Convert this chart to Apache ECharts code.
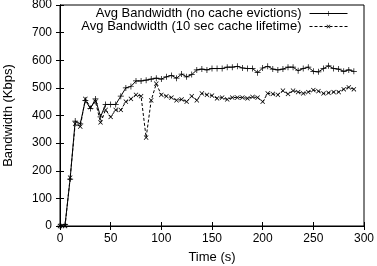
<!DOCTYPE html>
<html><head><meta charset="utf-8">
<script src="https://cdn.jsdelivr.net/npm/echarts@6/dist/echarts.min.js"></script>
<style>html,body{margin:0;padding:0;background:#fff}#c{width:377px;height:266px}</style>
</head><body><div id="c"></div>
<script>
const times = [0,5,10,15,20,25,30,35,40,45,50,55,60,65,70,75,80,85,90,95,100,105,110,115,120,125,130,135,140,145,150,155,160,165,170,175,180,185,190,195,200,205,210,215,220,225,230,235,240,245,250,255,260,265,270,275,280,285,290];
const noEvict = [0,5,170,380,370,455,425,460,395,440,440,440,470,500,505,525,525,528,532,535,532,540,545,535,550,540,548,565,568,565,570,570,570,575,575,578,572,570,570,555,572,578,568,565,568,575,575,562,570,575,560,558,570,580,570,568,560,565,560];
const tenSec = [0,0,175,370,360,460,430,450,375,420,395,420,420,450,460,475,470,320,455,515,475,470,465,455,458,450,470,455,480,475,472,462,465,458,465,465,465,462,467,465,450,480,478,475,490,478,490,485,480,485,492,488,480,482,485,485,495,502,495];
const xTicks = [0,50,100,150,200,250,300];
const yTicks = [0,100,200,300,400,500,600,700,800];
const name1 = 'Avg Bandwidth (no cache evictions)';
const name2 = 'Avg Bandwidth (10 sec cache lifetime)';

const font = 'Liberation Sans, Arial, sans-serif';
const plus = 'path://M-0.12,-1 L0.12,-1 L0.12,-0.12 L1,-0.12 L1,0.12 L0.12,0.12 L0.12,1 L-0.12,1 L-0.12,0.12 L-1,0.12 L-1,-0.12 L-0.12,-0.12 Z';
const chart = echarts.init(document.getElementById('c'), null, {renderer:'canvas'});
const axisCommon = {
  min: 0, axisLine:{show:true, lineStyle:{color:'#000', width:1}},
  axisTick:{show:true, inside:true, length:4, lineStyle:{color:'#000'}},
  splitLine:{show:false}
};
const legendCommon = {orient:'vertical', align:'right', itemWidth:38, itemHeight:6, padding:0,
  lineStyle:{width:1},
  textStyle:{fontFamily:font, fontSize:13, color:'#000', padding:[0,3,0,0]}};
chart.setOption({
  animation:false,
  backgroundColor:'#fff',
  grid:{left:60, right:13, top:5, bottom:40, containLabel:false, outerBoundsMode:'none',
        show:true, borderColor:'#000', borderWidth:1},
  legend:[
    Object.assign({data:[name1], right:29, top:7}, legendCommon),
    Object.assign({data:[name2], right:29, top:20}, legendCommon)
  ],
  xAxis:[
    Object.assign({}, axisCommon, {type:'value', max:300, interval:50, position:'bottom',
      name:'Time (s)', nameLocation:'middle', nameGap:25,
      nameTextStyle:{fontFamily:font, fontSize:13, color:'#000'},
      axisLabel:{fontFamily:font, fontSize:12, color:'#000', margin:7,
        formatter: v => xTicks.includes(v) ? String(v) : ''}}),
    Object.assign({}, axisCommon, {type:'value', max:300, interval:50, position:'top', axisLabel:{show:false}})
  ],
  yAxis:[
    Object.assign({}, axisCommon, {type:'value', max:800, interval:100, position:'left',
      name:'Bandwidth (Kbps)', nameLocation:'middle', nameGap:45,
      nameTextStyle:{fontFamily:font, fontSize:13, color:'#000'},
      axisLabel:{fontFamily:font, fontSize:12, color:'#000', margin:8,
        formatter: v => yTicks.includes(v) ? String(v) : ''}}),
    Object.assign({}, axisCommon, {type:'value', max:800, interval:100, position:'right', axisLabel:{show:false}})
  ],
  series:[
    {name:name1, type:'line', data: times.map((t,i)=>[t, noEvict[i]]),
     symbol:plus, symbolSize:6, showAllSymbol:true,
     itemStyle:{color:'#000'}, lineStyle:{color:'#000', width:1, type:'solid'}},
    {name:name2, type:'line', data: times.map((t,i)=>[t, tenSec[i]]),
     symbol:plus, symbolSize:6, symbolRotate:45, showAllSymbol:true,
     itemStyle:{color:'#000'}, lineStyle:{color:'#000', width:1, type:[3,2]}}
  ]
});
</script></body></html>
